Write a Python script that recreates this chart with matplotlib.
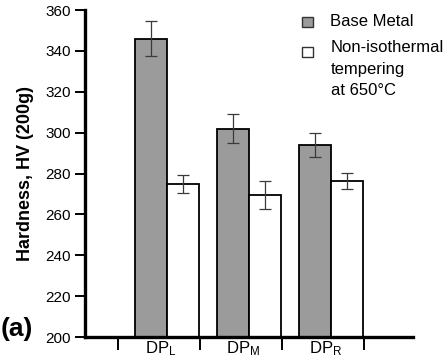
import matplotlib
matplotlib.use("Agg")
import matplotlib.pyplot as plt
from matplotlib.patches import Rectangle
import numpy as np

plt.rcParams["font.family"] = ["Liberation Sans", "DejaVu Sans"]
plt.rcParams["mathtext.default"] = "regular"

# ── Data ─────────────────────────────────────────────────────────────────────
categories = ["DP$_{L}$", "DP$_{M}$", "DP$_{R}$"]
base_metal = [346, 302, 294]
base_err = [8.5, 7, 5.7]
tempered = [275, 269.5, 276.3]
tempered_err = [4.5, 7, 4]

GRAY = "#9b9b9b"
ERR = "#3a3a3a"

fig = plt.figure(figsize=(4.46, 3.62), dpi=100)
ax = fig.add_axes([0.190, 0.069, 0.736, 0.903])

x = np.arange(len(categories))
w = 0.39

ax.bar(x, base_metal, -w, align="edge", color=GRAY, edgecolor="black",
       linewidth=1.3, zorder=2)
ax.bar(x, tempered, w, align="edge", color="white", edgecolor="black",
       linewidth=1.3, zorder=2)
ax.errorbar(x - w / 2, base_metal, yerr=base_err, fmt="none", ecolor=ERR,
            elinewidth=0.9, capsize=4.3, capthick=0.9, zorder=3)
ax.errorbar(x + w / 2, tempered, yerr=tempered_err, fmt="none", ecolor=ERR,
            elinewidth=0.9, capsize=4.3, capthick=0.9, zorder=3)

ax.set_xlim(-1, 3)
ax.set_ylim(200, 360)
ax.set_yticks(np.arange(200, 361, 20))

# group boundaries as major ticks, names as minor labels
ax.set_xticks(np.append(x - 0.6, x[-1] + 0.4))
ax.set_xticklabels([])
ax.set_xticks(x - 0.07, minor=True)
ax.set_xticklabels(categories, minor=True, fontsize=12)
ax.tick_params(axis="x", which="major", direction="out", length=9, width=1.4)
ax.tick_params(axis="x", which="minor", length=0, pad=2)
ax.tick_params(axis="y", direction="out", length=7, width=1.4, labelsize=11, pad=3)

for s in ["top", "right"]:
    ax.spines[s].set_visible(False)
for s in ["left", "bottom"]:
    ax.spines[s].set_linewidth(2.4)

ax.set_ylabel("Hardness, HV (200g)", fontsize=13, fontweight="bold", labelpad=8)

# legend drawn by hand
fig.patches.append(Rectangle((302 / 446, 1 - 27 / 362), 11 / 446, 10 / 362,
                             transform=fig.transFigure, facecolor=GRAY,
                             edgecolor="#333333", linewidth=1))
fig.patches.append(Rectangle((302 / 446, 1 - 57 / 362), 11 / 446, 10 / 362,
                             transform=fig.transFigure, facecolor="white",
                             edgecolor="#333333", linewidth=1))
fig.text(330 / 446, 1 - 21 / 362, "Base Metal", fontsize=12, va="center")
fig.text(331 / 446, 1 - 40 / 362, "Non-isothermal\ntempering\nat 650°C",
         fontsize=12, va="top", linespacing=1.55)

fig.text(1 / 446, 1 - 341 / 362, "(a)", fontsize=19, fontweight="bold",
         va="bottom", ha="left")

fig.savefig("out.png", dpi=100)
